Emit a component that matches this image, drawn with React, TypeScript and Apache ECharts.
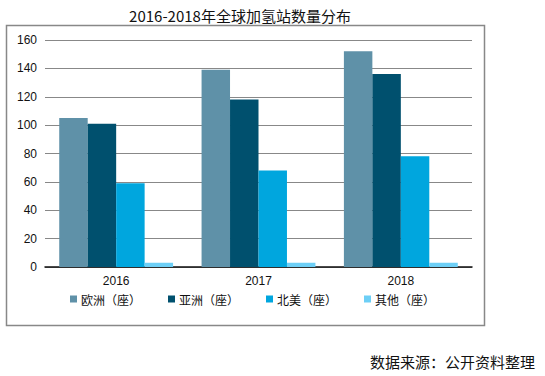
import React, { useEffect, useRef } from "react";
import * as echarts from "echarts";

const categories = ["2016", "2017", "2018"];
const seriesNames = ["欧洲（座）", "亚洲（座）", "北美（座）", "其他（座）"];
const europe = [105, 139, 152];
const asia = [101, 118, 136];
const northAmerica = [59, 68, 78];
const others = [3, 3, 3];
const colors = ["#5f91a8", "#00506e", "#00a6de", "#6dcff6"];

export default function App() {
  const ref = useRef<HTMLDivElement>(null);
  useEffect(() => {
    if (!ref.current) return;
    const chart = echarts.init(ref.current, null, { renderer: "svg" });
    const values = [europe, asia, northAmerica, others];
    chart.setOption({
      animation: false,
      backgroundColor: "#ffffff",
      title: {
        text: "2016-2018年全球加氢站数量分布",
        left: 235,
        textAlign: "center",
        top: 3,
        textStyle: { fontFamily: "Noto Sans CJK SC", fontSize: 15, fontWeight: "normal", color: "#111" },
      },
      graphic: [
        {
          type: "rect",
          shape: { x: 6.5, y: 25.5, width: 478, height: 300 },
          style: { fill: "none", stroke: "#888", lineWidth: 1.5 },
          silent: true,
        },
        {
          type: "text",
          left: 370,
          top: 354,
          style: { text: "数据来源：公开资料整理", font: "15px 'Noto Sans CJK SC'", fill: "#111" },
        },
      ],
      legend: {
        data: seriesNames,
        left: 65,
        top: 288,
        itemWidth: 7,
        itemHeight: 7,
        itemGap: 27,
        icon: "rect",
        textStyle: { fontFamily: "Noto Sans CJK SC", fontSize: 12, color: "#111", padding: [0, 0, 0, -1] },
      },
      grid: { left: 45, right: 73, top: 40, bottom: 109 },
      xAxis: {
        type: "category",
        data: categories,
        axisLine: { lineStyle: { color: "#111", width: 1.5 } },
        axisTick: { show: false },
        axisLabel: { fontFamily: "Liberation Sans", fontSize: 12, color: "#111", margin: 8 },
      },
      yAxis: {
        type: "value",
        min: 0,
        max: 160,
        interval: 20,
        axisLine: { show: false },
        axisTick: { show: false },
        splitLine: { lineStyle: { color: "#888", width: 1 } },
        axisLabel: { fontFamily: "Liberation Sans", fontSize: 12, color: "#111", margin: 8 },
      },
      series: seriesNames.map((name, i) => ({
        name,
        type: "bar",
        data: values[i],
        barGap: "0%",
        barCategoryGap: "20%",
        itemStyle: { color: colors[i] },
      })),
    });
    return () => chart.dispose();
  }, []);
  return <div ref={ref} style={{ position: "absolute", left: 0, top: 0, width: 545, height: 376 }} />;
}
